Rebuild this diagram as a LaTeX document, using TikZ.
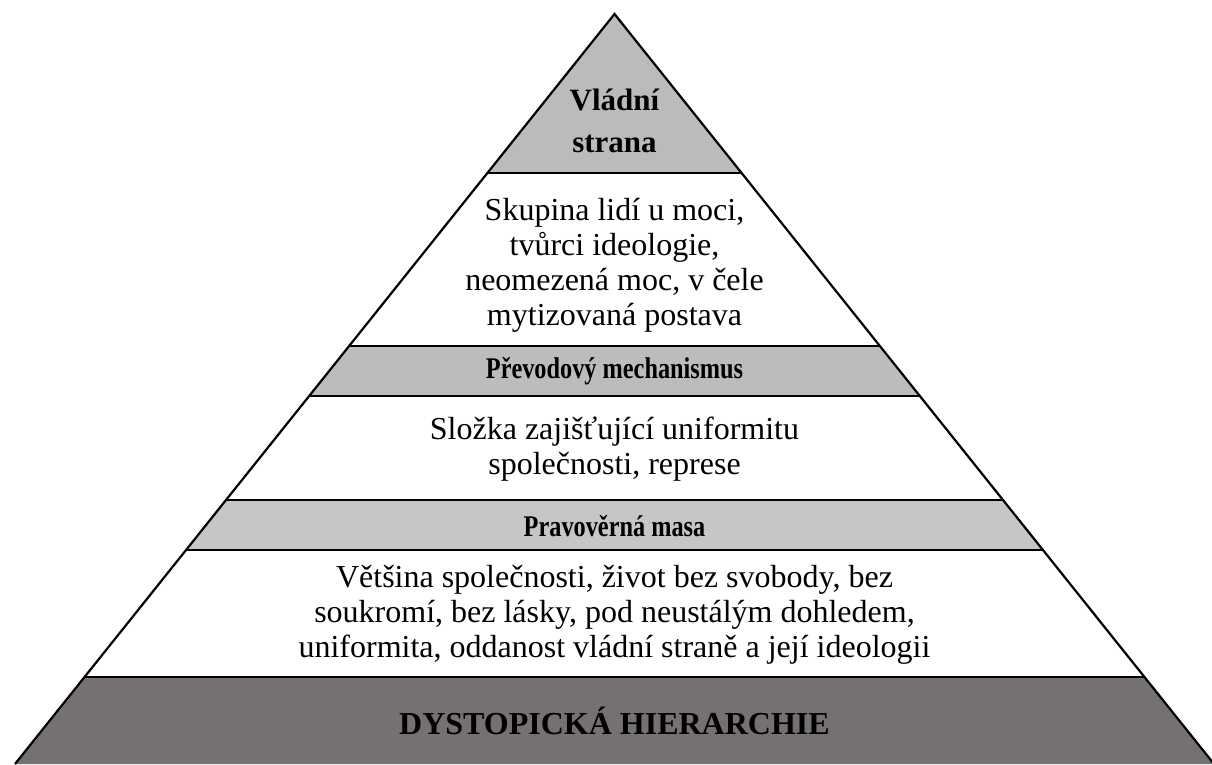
\documentclass[tikz,border=0pt]{standalone}
\usepackage{fontspec}
\usepackage{graphicx}
\setmainfont{Liberation Serif}
\begin{document}
\begin{tikzpicture}[x=1pt,y=-1pt,
  edge/.style={line width=2.2pt,line join=miter},
  sep/.style={line width=2.6pt},
  body/.style={align=center,font=\fontsize{32}{35}\selectfont,inner sep=0pt},
  head/.style={align=center,font=\bfseries\fontsize{30}{32}\selectfont,inner sep=0pt}]
\definecolor{topgray}{HTML}{BBBBBB}
\definecolor{bandA}{HTML}{BCBCBC}
\definecolor{bandB}{HTML}{C6C6C6}
\definecolor{basegray}{HTML}{767171}
\useasboundingbox (0,0) rectangle (1212,764);
\coordinate (apex) at (614.5,14);
\coordinate (l1) at (487.4,173); \coordinate (r1) at (741.6,173);
\coordinate (l2) at (349.1,346); \coordinate (r2) at (879.9,346);
\coordinate (l3) at (309.2,396); \coordinate (r3) at (919.8,396);
\coordinate (l4) at (226.0,500); \coordinate (r4) at (1003.0,500);
\coordinate (l5) at (186.1,550); \coordinate (r5) at (1042.9,550);
\coordinate (l6) at (84.6,677); \coordinate (r6) at (1144.4,677);
\coordinate (l7) at (15,764); \coordinate (r7) at (1214,764);
% fills
\fill[topgray] (apex) -- (r1) -- (l1) -- cycle;
\fill[bandA] (l2) -- (r2) -- (r3) -- (l3) -- cycle;
\fill[bandB] (l4) -- (r4) -- (r5) -- (l5) -- cycle;
\fill[basegray] (l6) -- (r6) -- (r7) -- (l7) -- cycle;
% separators
\draw[sep] (l1) -- (r1);
\draw[sep] (l2) -- (r2);
\draw[sep] (l3) -- (r3);
\draw[sep] (l4) -- (r4);
\draw[sep] (l5) -- (r5);
\draw[sep] (l6) -- (r6);
% outline
\draw[edge] (l7) -- (apex) -- (r7);
% texts
\node[head,font=\bfseries\fontsize{31}{42}\selectfont] (t1) at (614.5,121) {Vládní\\strana};
\node[body] (t2) at (614.5,265) {Skupina lidí u moci,\\tvůrci ideologie,\\neomezená moc, v čele\\mytizovaná postava};
\node[head] (t3) at (614.5,371) {\scalebox{0.81}[1]{Převodový mechanismus}};
\node[body] (t4) at (614.5,449) {Složka zajišťující uniformitu\\společnosti, represe};
\node[head] (t5) at (614.5,526) {\scalebox{0.81}[1]{Pravověrná masa}};
\node[body] (t6) at (614.5,615) {Většina společnosti, život bez svobody, bez\\soukromí, bez lásky, pod neustálým dohledem,\\uniformita, oddanost vládní straně a její ideologii};
\node[head,font=\bfseries\fontsize{32}{34}\selectfont] (t7) at (614.5,721) {DYSTOPICKÁ HIERARCHIE};
\end{tikzpicture}
\end{document}
